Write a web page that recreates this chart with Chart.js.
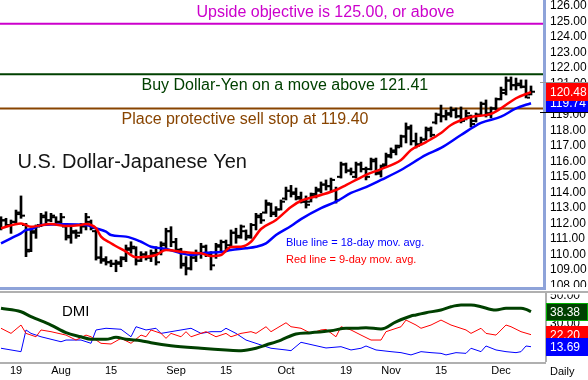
<!DOCTYPE html>
<html><head><meta charset="utf-8">
<script src="https://cdn.jsdelivr.net/npm/chart.js@4.4.1/dist/chart.umd.min.js"></script>
<style>
html,body{margin:0;padding:0;background:#fff;}
#wrap{position:relative;width:588px;height:380px;overflow:hidden;background:#fff;}
#main{position:absolute;left:0;top:0;}
#dmi{position:absolute;left:0;top:293px;}
</style></head>
<body><div id="wrap"><canvas id="main" width="588" height="293"></canvas><canvas id="dmi" width="588" height="87"></canvas></div>
<script>
const FONT = '"Liberation Sans", Arial, sans-serif';
Chart.defaults.font.family = FONT;
Chart.defaults.color = '#000';

// ---- data (day index 0 = Jul 19) ----
const firstDay = -3;
const highs = [112.43,112.33,112.22,112.86,113.77,112.00,111.69,111.90,112.65,112.75,
  112.65,112.43,112.65,111.90,111.79,111.58,112.00,112.65,112.22,111.58,
  110.50,109.86,109.64,109.64,109.86,110.61,110.82,110.50,110.18,110.18,
  110.29,110.50,110.82,111.69,111.79,111.04,110.40,109.86,109.97,110.29,
  110.72,110.61,110.18,110.72,110.93,110.93,111.58,111.69,111.90,111.58,
  112.00,112.65,112.65,113.51,113.31,113.08,113.51,114.34,114.45,114.28,
  114.02,113.77,113.96,114.34,114.67,114.80,114.92,114.34,115.95,115.89,
  115.57,115.95,115.95,115.63,116.21,116.21,115.76,116.53,116.86,117.05,
  117.69,118.47,118.34,117.82,117.56,118.21,118.21,119.11,119.62,119.30,
  119.50,119.43,119.50,119.30,118.98,119.11,119.82,119.95,119.50,120.08,
  120.78,121.43,121.43,121.36,121.24,121.24,120.85];
const lows = [111.58,111.79,111.36,112.00,112.33,109.86,110.18,111.04,111.79,112.00,
  112.11,111.90,112.00,110.93,110.72,111.04,111.36,111.58,111.58,109.64,
  109.43,109.32,109.21,108.89,109.21,109.54,110.08,109.32,109.54,109.64,
  109.54,109.32,109.97,110.29,110.50,110.18,109.11,108.68,109.00,109.54,
  109.75,109.86,109.00,109.75,110.18,110.18,110.50,110.72,111.04,110.93,
  111.04,111.58,112.00,112.65,112.43,112.43,112.86,113.51,113.70,113.51,
  113.31,112.99,113.38,113.64,113.96,114.15,114.02,113.31,114.92,115.25,
  115.12,114.92,115.31,114.80,115.44,115.12,114.99,115.70,116.21,116.41,
  116.92,117.18,117.05,116.86,117.05,117.37,117.56,118.40,118.53,118.66,
  118.85,118.79,118.47,118.66,118.21,118.53,118.98,118.85,118.79,119.30,
  119.95,120.27,120.59,120.59,120.72,120.08,120.27];
const opens = [111.80,112.20,111.90,112.10,112.60,111.90,110.30,111.40,111.90,112.40,
  112.20,112.40,112.10,111.80,111.20,111.40,111.40,111.80,112.10,111.50,
  109.80,109.70,109.50,109.40,109.40,109.70,110.30,110.40,109.60,110.00,
  109.80,110.00,110.10,110.60,111.50,110.80,110.30,109.40,109.10,109.80,
  110.10,110.50,110.00,109.90,110.50,110.80,110.60,111.40,111.20,111.50,
  111.20,111.90,112.40,112.70,113.20,112.60,112.90,113.60,114.10,114.00,
  113.60,113.40,113.40,113.80,114.10,114.50,114.40,114.10,115.00,115.80,
  115.40,115.00,115.80,115.50,115.50,116.00,115.20,115.80,116.30,116.60,
  117.00,117.60,118.10,117.30,117.10,117.40,118.00,118.50,119.00,118.90,
  119.00,119.30,118.90,118.70,118.90,118.60,119.00,119.70,119.00,119.40,
  120.00,120.40,121.20,120.90,120.90,120.80,120.30];
const closes = [112.20,111.90,112.10,112.70,112.50,110.20,111.50,111.80,112.50,112.20,
  112.50,112.10,112.40,111.10,111.50,111.20,111.90,112.40,111.70,109.80,
  109.60,109.50,109.40,109.50,109.80,110.40,110.50,109.60,110.00,109.80,
  110.10,109.50,110.70,111.50,110.80,110.30,109.30,109.10,109.80,110.10,
  110.50,110.10,109.30,110.60,110.80,110.40,111.40,111.10,111.80,111.10,
  111.90,112.50,112.20,113.30,112.70,112.90,113.40,114.10,113.90,113.70,
  113.40,113.20,113.90,114.20,114.50,114.40,114.80,113.50,115.80,115.40,
  115.30,115.80,115.50,115.00,116.10,115.30,115.70,116.40,116.70,116.90,
  117.60,118.20,117.30,117.00,117.40,118.10,117.70,119.00,118.90,119.10,
  119.30,118.90,118.60,119.10,118.40,119.00,119.70,119.10,119.40,120.00,
  120.60,121.20,120.90,121.00,120.80,120.10,120.48];

// 9-day (red) and 18-day (blue) moving averages
const redIdx = [-3,1,3,7,10,13,14,16,17,19,22,24,26,28,30,33,35,37,39,41,43,45,47,49,52,55,57,61,64,66,68,70,73,77,79,82,85,87,91,95,97,100,103];
const redVal = [111.69,112.00,111.79,111.96,111.83,111.90,111.96,111.69,111.15,110.72,110.18,109.82,109.86,109.97,110.29,110.18,110.11,110.08,109.90,109.97,110.48,110.50,110.82,111.64,112.22,113.06,113.46,113.83,114.15,114.47,114.80,115.12,115.50,116.08,116.73,117.24,117.82,118.34,118.85,119.05,119.41,120.06,120.46];
const blueIdx = [-3,-1,1,2,3,5,10,14,16,18,19,22,25,27,29,30,33,35,38,41,43,46,48,50,52,55,57,61,64,67,70,73,77,82,85,89,93,97,100,103];
const blueVal = [110.72,111.04,111.36,111.58,111.62,111.90,111.94,111.90,111.69,111.47,111.25,111.15,110.82,110.50,110.40,110.35,110.08,109.97,110.11,110.16,110.29,110.40,110.50,110.72,111.25,111.83,112.28,112.99,113.40,113.96,114.34,114.80,115.44,116.41,116.86,117.69,118.47,118.87,119.41,119.74];

// DMI
const adxIdx = [-3,1,3,7,10,13,15,18,20,22,25,27,31,37,42,45,48,50,53,56,59,63,66,68,70,73,76,79,80,82,85,87,89,91,93,95,96,98,101,102,103];
const adxVal = [40.8,38.4,34.9,29.0,23.6,20.7,18.9,18.9,20.3,18.9,17.9,16.5,14.4,12.6,11.4,10.9,12.6,14.9,18.4,22.7,23.6,25.0,26.7,26.7,27.1,26.2,31.3,35.4,36.1,37.7,39.6,41.9,43.1,43.1,41.9,40.0,39.6,40.8,40.8,40.0,38.38];
const pdiIdx = [-3,-1,1,2,4,5,7,10,12,14,15,17,19,21,23,25,26,27,29,30,31,33,34,35,38,40,42,43,45,47,48,50,51,54,55,57,59,61,62,64,65,67,69,71,73,74,77,78,80,81,83,85,87,90,91,93,94,96,98,99,101,103];
const pdiVal = [26.7,23.1,29.0,23.1,20.7,25.5,24.3,21.9,18.4,21.9,20.7,16.1,15.6,19.6,16.1,21.9,20.7,25.5,23.1,19.6,23.1,20.7,24.3,20.7,24.3,20.7,23.1,20.7,23.1,24.3,23.1,27.8,24.3,30.6,27.8,26.7,23.1,25.5,25.9,20.7,27.8,25.5,21.9,18.4,18.4,24.3,27.8,32.5,29.0,26.7,29.0,32.5,29.0,25.5,23.1,26.7,23.1,21.9,29.0,27.8,24.3,22.20];
const mdiIdx = [-3,-1,1,2,3,5,9,10,13,15,16,18,21,23,24,26,28,29,31,33,35,37,39,41,42,44,46,49,51,54,55,57,60,62,65,67,69,70,72,75,77,79,81,83,85,86,88,90,91,93,94,96,98,100,101,102,103];
const mdiVal = [12.6,11.4,10.2,25.5,23.1,20.7,17.2,18.4,18.4,16.1,25.5,26.7,26.0,20.7,27.8,25.5,26.7,23.1,24.3,25.5,26.7,23.1,24.3,24.3,26.7,23.1,18.4,14.9,12.6,11.4,10.9,16.8,14.4,12.8,13.7,11.4,12.6,14.2,11.4,10.2,9.5,7.9,10.2,9.5,9.0,7.9,9.5,9.0,12.6,10.2,14.2,11.4,10.2,9.5,10.2,14.2,13.69];

const levelValues = [124.86, 121.6, 119.4];
const levelColors = ['#CC00CC', '#004000', '#884400'];
const levelTexts = ['Upside objective is 125.00, or above', 'Buy Dollar-Yen on a move above 121.41', 'Place protective sell stop at 119.40'];
const titleText = 'U.S. Dollar-Japanese Yen';
const blueNote = 'Blue line = 18-day mov. avg.';
const redNote = 'Red line = 9-day mov. avg.';

const priceTicks = [108,109,110,111,112,113,114,115,116,117,118,119,120,121,122,123,124,125,126];
const dmiTicks = [10,20,30,40,50];
const dateTickIdx = [0,9,19,32,42,54,66,75,85,97];
const dateTickLabels = ['19','Aug','15','Sep','15','Oct','19','Nov','15','Dec'];

const xMin = -3.2, xMax = 105.4;
const priceMin = 107.906, priceMax = 126.386;
const dmiMin = 2.9, dmiMax = 51.6;

// ---- helpers ----
const pts = (idx, val) => idx.map((x, k) => ({x, y: val[k]}));
function drawBox(ctx, x0, w, cy, fill, txt, stroke) {
  ctx.fillStyle = fill;
  ctx.fillRect(x0, Math.round(cy - 9), w, 18);
  if (stroke) { ctx.strokeStyle = stroke; ctx.lineWidth = 1; ctx.strokeRect(x0 + 0.5, Math.round(cy - 9) + 0.5, w - 1, 17); }
  ctx.fillStyle = '#fff';
  ctx.font = '12px ' + FONT;
  ctx.textAlign = 'left'; ctx.textBaseline = 'middle';
  ctx.fillText(txt, x0 + 4, Math.round(cy) + 0.5);
}
const yAxisFit = s => { s.width = 45; s.paddingTop = 0; s.paddingBottom = 0; s.paddingLeft = 0; s.paddingRight = 0; };

const mainDeco = {
  id: 'mainDeco',
  afterDraw(chart) {
    const {ctx, chartArea: a, scales: {y}} = chart;
    ctx.save();
    const textPos = [{x: 196.5, dy: -11.3}, {x: 141.5, dy: 11.3}, {x: 121.5, dy: 11.2}];
    ctx.textAlign = 'left'; ctx.textBaseline = 'middle';
    ctx.font = '16px ' + FONT;
    levelTexts.forEach((t, k) => {
      ctx.fillStyle = levelColors[k];
      ctx.fillText(t, textPos[k].x, y.getPixelForValue(levelValues[k]) + textPos[k].dy);
    });
    ctx.font = '20px ' + FONT; ctx.fillStyle = '#151515';
    ctx.fillText(titleText, 17.5, 162.5);
    ctx.font = '11px ' + FONT;
    ctx.fillStyle = '#0000FF'; ctx.fillText(blueNote, 286, 243);
    ctx.fillStyle = '#FF0000'; ctx.fillText(redNote, 286, 260);
    // frame
    ctx.fillStyle = '#fff'; ctx.fillRect(a.right, a.bottom, chart.width - a.right, chart.height - a.bottom);
    ctx.fillStyle = '#8EA3D9';
    ctx.fillRect(a.right, 0, 3, a.bottom + 3);
    ctx.fillRect(0, a.bottom, a.right + 3, 3);
    ctx.fillStyle = '#B0B0B0'; ctx.fillRect(0, a.bottom + 4, chart.width, 2);
    // last value boxes
    const bx = a.right + 3, bw = chart.width - bx;
    const lastBlue = blueVal[blueVal.length - 1], lastClose = closes[closes.length - 1];
    const by = y.getPixelForValue(lastBlue), ry = y.getPixelForValue(lastClose);
    drawBox(ctx, bx, bw, by, '#0000FF', lastBlue.toFixed(2));
    ctx.fillStyle = '#000'; ctx.fillRect(a.right - 3, Math.round(by + 9), chart.width, 1);
    drawBox(ctx, bx, bw, ry, '#FF0000', lastClose.toFixed(2));
    ctx.fillStyle = '#999'; ctx.fillRect(a.right - 3, Math.round(ry - 9) - 1, chart.width, 1);
    ctx.restore();
  }
};

const dmiDeco = {
  id: 'dmiDeco',
  afterDraw(chart) {
    const {ctx, chartArea: a, scales: {y}} = chart;
    ctx.save();
    ctx.textAlign = 'left'; ctx.textBaseline = 'middle';
    ctx.font = '15px ' + FONT; ctx.fillStyle = '#000';
    ctx.fillText('DMI', 62, 18.5);
    ctx.fillStyle = '#fff'; ctx.fillRect(a.right + 4, 0, chart.width - a.right, 1.5);
    ctx.fillStyle = '#B0B0B0';
    ctx.fillRect(0, a.bottom, a.right + 3, 2);
    ctx.fillRect(a.right + 2, 0, 2, a.bottom);
    const bx = a.right + 3, bw = chart.width - bx;
    const la = adxVal[adxVal.length - 1], lp = pdiVal[pdiVal.length - 1], lm = mdiVal[mdiVal.length - 1];
    drawBox(ctx, bx, bw, y.getPixelForValue(la), '#004000', la.toFixed(2), '#00B000');
    drawBox(ctx, bx, bw, y.getPixelForValue(lp), '#FF0000', lp.toFixed(2));
    drawBox(ctx, bx, bw, y.getPixelForValue(lm), '#0000FF', lm.toFixed(2));
    ctx.font = '11px ' + FONT; ctx.fillStyle = '#000';
    ctx.fillText('Daily', 550, 78.5);
    ctx.restore();
  }
};

const common = {
  responsive: false, animation: false, events: [],
  plugins: {legend: {display: false}, tooltip: {enabled: false}}
};

new Chart(document.getElementById('main'), {
  type: 'scatter',
  data: {
    datasets: [
      {type: 'line', data: pts(redIdx, redVal), borderColor: '#FF0000', borderWidth: 2.5, pointRadius: 0, cubicInterpolationMode: 'monotone', order: 0},
      {type: 'line', data: pts(blueIdx, blueVal), borderColor: '#0000FF', borderWidth: 2.5, pointRadius: 0, cubicInterpolationMode: 'monotone', order: 1},
      {type: 'bar', data: highs.map((h, k) => ({x: firstDay + k, y: [lows[k], h]})), backgroundColor: '#000', barThickness: 2, borderWidth: 0, order: 2},
      {type: 'scatter', data: opens.map((o, k) => ({x: firstDay + k - 0.5, y: o})), pointStyle: 'line', pointRadius: 1.5, pointBorderWidth: 2, pointBorderColor: '#000', order: 2},
      {type: 'scatter', data: closes.map((c, k) => ({x: firstDay + k + 0.5, y: c})), pointStyle: 'line', pointRadius: 1.5, pointBorderWidth: 2, pointBorderColor: '#000', order: 2},
      ...levelValues.map((v, k) => ({type: 'line', data: [{x: xMin, y: v}, {x: xMax, y: v}], borderColor: levelColors[k], borderWidth: 2, pointRadius: 0, order: 3}))
    ]
  },
  options: Object.assign({}, common, {
    layout: {autoPadding: false, padding: {left: 0, right: 0, top: 0, bottom: 6}},
    scales: {
      x: {type: 'linear', display: false, min: xMin, max: xMax, offset: false, grid: {display: false},
        ticks: {display: false},
        afterFit: s => { s.paddingLeft = 0; s.paddingRight = 0; s.paddingTop = 0; s.paddingBottom = 0; }},
      y: {type: 'linear', position: 'right', min: priceMin, max: priceMax, beginAtZero: false,
        afterBuildTicks: s => { s.ticks = priceTicks.map(v => ({value: v})); },
        afterFit: yAxisFit,
        grid: {display: false, drawTicks: false}, border: {display: false},
        ticks: {padding: 7, autoSkip: false, color: '#000', font: {size: 12}, callback: v => Number(v).toFixed(2)}}
    }
  }),
  plugins: [mainDeco]
});

new Chart(document.getElementById('dmi'), {
  type: 'scatter',
  data: {
    datasets: [
      {type: 'line', data: pts(adxIdx, adxVal), borderColor: '#004000', borderWidth: 3, pointRadius: 0, cubicInterpolationMode: 'monotone', order: 0},
      {type: 'line', data: pts(pdiIdx, pdiVal), borderColor: '#FF0000', borderWidth: 1, pointRadius: 0, tension: 0, order: 1},
      {type: 'line', data: pts(mdiIdx, mdiVal), borderColor: '#0000FF', borderWidth: 1, pointRadius: 0, tension: 0, order: 2}
    ]
  },
  options: Object.assign({}, common, {
    layout: {autoPadding: false, padding: 0},
    scales: {
      x: {type: 'linear', min: xMin, max: xMax, offset: false,
        afterBuildTicks: s => { s.ticks = dateTickIdx.map(v => ({value: v})); },
        afterFit: s => { s.height = 18; s.paddingLeft = 0; s.paddingRight = 0; s.paddingTop = 0; s.paddingBottom = 0; },
        grid: {display: false, drawTicks: false}, border: {display: false},
        ticks: {padding: 2, autoSkip: false, maxRotation: 0, color: '#000', font: {size: 11},
          callback: v => dateTickLabels[dateTickIdx.indexOf(v)]}},
      y: {type: 'linear', position: 'right', min: dmiMin, max: dmiMax,
        afterBuildTicks: s => { s.ticks = dmiTicks.map(v => ({value: v})); },
        afterFit: yAxisFit,
        grid: {display: false, drawTicks: false}, border: {display: false},
        ticks: {padding: 7, autoSkip: false, color: '#000', font: {size: 12}, callback: v => Number(v).toFixed(2)}}
    }
  }),
  plugins: [dmiDeco]
});
</script>
</body></html>
